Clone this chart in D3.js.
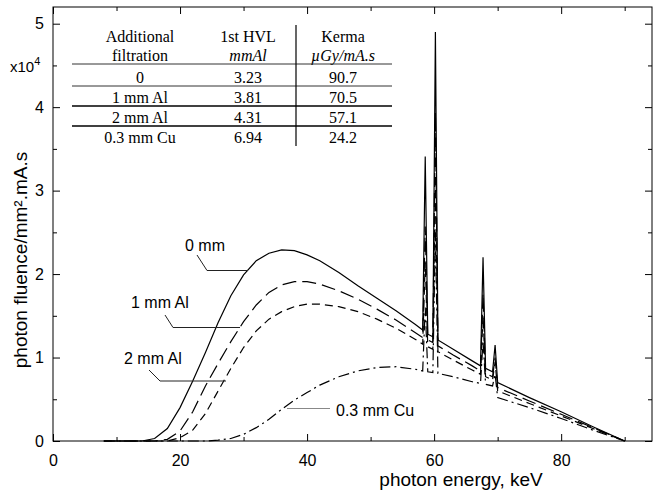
<!DOCTYPE html>
<html>
<head>
<meta charset="utf-8">
<script src="https://cdnjs.cloudflare.com/ajax/libs/d3/7.8.5/d3.min.js"></script>
<style>
body { margin: 0; background: #fff; }
svg { display: block; }
.axis .domain { stroke: none; }
.axis .tick line { stroke: #000; stroke-width: 1; }
.axis .tick text { font-family: "Liberation Sans", Arial, sans-serif; font-size: 16px; fill: #000; }
.lbl { font-family: "Liberation Sans", Arial, sans-serif; fill: #000; }
.tbl { font-family: "Liberation Serif", "Times New Roman", serif; font-size: 16px; fill: #000; }
</style>
</head>
<body>
<svg id="chart" width="653" height="494"></svg>
<script>
// photon energy (keV) shared by all spectra, incl. W K-lines 58.6 / 60.2 / 67.7 / 69.6
var energy = [8, 14, 16, 18, 20, 22, 24, 26, 28, 30, 32, 34, 36, 38, 40, 42, 45, 48, 51, 54, 57,
              58.2, 58.6, 59.0, 59.8, 60.2, 60.6, 63, 66, 67.3, 67.7, 68.1, 69.2, 69.6, 70.0, 75, 80, 85, 90];

// fluence, x10^4 photons/mm2.mA.s
var fl0mm = [0, 0, 0.03, 0.15, 0.40, 0.72, 1.06, 1.42, 1.74, 1.99, 2.16, 2.25, 2.29, 2.28, 2.23, 2.16, 2.02, 1.86, 1.71, 1.56, 1.40,
             1.33, 3.41, 1.28, 1.25, 4.90, 1.21, 1.10, 0.96, 0.90, 2.20, 0.87, 0.83, 1.15, 0.70, 0.52, 0.35, 0.17, 0];
var fl1mmAl = [0, 0, 0, 0.02, 0.12, 0.35, 0.66, 0.93, 1.19, 1.43, 1.63, 1.78, 1.87, 1.91, 1.91, 1.88, 1.80, 1.70, 1.58, 1.45, 1.30,
               1.24, 2.57, 1.21, 1.18, 3.94, 1.14, 1.03, 0.90, 0.84, 1.77, 0.81, 0.77, 1.00, 0.64, 0.48, 0.32, 0.16, 0];
var fl2mmAl = [0, 0, 0, 0, 0.04, 0.13, 0.33, 0.60, 0.87, 1.12, 1.32, 1.46, 1.55, 1.61, 1.64, 1.64, 1.61, 1.55, 1.46, 1.35, 1.22,
               1.16, 2.14, 1.13, 1.10, 3.19, 1.07, 0.97, 0.85, 0.80, 1.50, 0.77, 0.73, 0.95, 0.60, 0.45, 0.30, 0.15, 0];
var fl03mmCu = [0, 0, 0, 0, 0, 0, 0, 0.01, 0.03, 0.08, 0.16, 0.26, 0.38, 0.49, 0.58, 0.67, 0.77, 0.84, 0.88, 0.89, 0.86,
                0.84, 1.60, 0.83, 0.82, 2.50, 0.81, 0.77, 0.71, 0.69, 1.20, 0.68, 0.66, 0.80, 0.52, 0.40, 0.27, 0.13, 0];

var xMajorTicks = [0, 20, 40, 60, 80];
var xMinorTicks = [10, 30, 50, 70, 90];
var yMajorTicks = [0, 1, 2, 3, 4, 5];
var yMinorTicks = [0.5, 1.5, 2.5, 3.5, 4.5];

// table
var tblHead1 = ["Additional", "1st HVL", "Kerma"];
var tblHead2 = ["filtration", "mmAl", "\u00b5Gy/mA.s"];
var tblFilter = ["0", "1 mm Al", "2 mm Al", "0.3 mm Cu"];
var tblHVL = ["3.23", "3.81", "4.31", "6.94"];
var tblKerma = ["90.7", "70.5", "57.1", "24.2"];

var margin = { top: 7, right: 1, bottom: 53, left: 53 };
var width = 653 - margin.left - margin.right;
var height = 494 - margin.top - margin.bottom;

var svg = d3.select("#chart");
var g = svg.append("g")
    .attr("transform", "translate(" + margin.left + "," + margin.top + ")");

var x = d3.scaleLinear().domain([0, 94.3]).range([0, width]);
var y = d3.scaleLinear().domain([0, 5.2]).range([height, 0]);
var fmt = d3.format("d");

// axes, ticks pointing inward on all four sides
g.append("g").attr("class", "axis")
    .attr("transform", "translate(0," + height + ")")
    .call(d3.axisBottom(x).tickValues(xMajorTicks).tickFormat(fmt).tickSizeInner(-7).tickSizeOuter(0).tickPadding(14));
g.append("g").attr("class", "axis")
    .attr("transform", "translate(0," + height + ")")
    .call(d3.axisBottom(x).tickValues(xMinorTicks).tickSize(-4).tickFormat(""));
g.append("g").attr("class", "axis")
    .call(d3.axisTop(x).tickValues(xMajorTicks).tickSize(-7).tickFormat(""));
g.append("g").attr("class", "axis")
    .call(d3.axisTop(x).tickValues(xMinorTicks).tickSize(-4).tickFormat(""));

g.append("g").attr("class", "axis")
    .call(d3.axisLeft(y).tickValues(yMajorTicks).tickFormat(fmt).tickSizeInner(-7).tickSizeOuter(0).tickPadding(9));
g.append("g").attr("class", "axis")
    .call(d3.axisLeft(y).tickValues(yMinorTicks).tickSize(-4).tickFormat(""));
g.append("g").attr("class", "axis")
    .attr("transform", "translate(" + width + ",0)")
    .call(d3.axisRight(y).tickValues(yMajorTicks).tickSize(-7).tickFormat(""));
g.append("g").attr("class", "axis")
    .attr("transform", "translate(" + width + ",0)")
    .call(d3.axisRight(y).tickValues(yMinorTicks).tickSize(-4).tickFormat(""));

g.append("rect")
    .attr("x", 0).attr("y", 0)
    .attr("width", width).attr("height", height)
    .attr("fill", "none").attr("stroke", "#000").attr("stroke-width", 1);

// spectra
var line = d3.line()
    .x(function(d) { return x(d[0]); })
    .y(function(d) { return y(d[1]); });

var series = [
    { vals: fl0mm, dash: null },
    { vals: fl1mmAl, dash: "14,6" },
    { vals: fl2mmAl, dash: "8,5" },
    { vals: fl03mmCu, dash: "11,4,2,4" }
];

series.forEach(function(s) {
    var pts = energy.map(function(e, i) { return [e, s.vals[i]]; });
    g.append("path")
        .datum(pts)
        .attr("d", line)
        .attr("fill", "none")
        .attr("stroke", "#000")
        .attr("stroke-width", 1.2)
        .attr("stroke-dasharray", s.dash);
});

// curve labels with leader lines (svg coords)
function leader(pts, col) {
    svg.append("polyline")
        .attr("points", pts.map(function(p) { return p.join(","); }).join(" "))
        .attr("fill", "none")
        .attr("stroke", col)
        .attr("stroke-width", 1);
}
leader([[197, 255], [207, 270.5], [248, 270.5]], "#222");
leader([[165, 315], [173, 327.5], [240, 327.5]], "#222");
leader([[149, 370], [160, 381], [226, 381]], "#222");
leader([[287, 408.5], [330, 408.5]], "#888");

svg.append("text").attr("class", "lbl").style("font-size", "16px").attr("x", 185).attr("y", 251).text("0 mm");
svg.append("text").attr("class", "lbl").style("font-size", "16px").attr("x", 131).attr("y", 308).text("1 mm Al");
svg.append("text").attr("class", "lbl").style("font-size", "16px").attr("x", 124).attr("y", 364).text("2 mm Al");
svg.append("text").attr("class", "lbl").style("font-size", "16px").attr("x", 336).attr("y", 416).text("0.3 mm Cu");

// axis titles
svg.append("text").attr("class", "lbl")
    .style("font-size", "19px")
    .attr("text-anchor", "middle")
    .attr("x", 461).attr("y", 486)
    .text("photon energy, keV");

svg.append("text").attr("class", "lbl")
    .style("font-size", "19px")
    .attr("text-anchor", "middle")
    .attr("transform", "translate(27,260) rotate(-90)")
    .text("photon fluence/mm\u00b2.mA.s");

var mult = svg.append("text").attr("class", "lbl").style("font-size", "15px")
    .attr("x", 10).attr("y", 72);
mult.append("tspan").text("x10");
mult.append("tspan").attr("dy", -7).style("font-size", "11px").text("4");

// table
var colX = [140, 248, 343];
var tbl = svg.append("g").attr("class", "tbl");
tblHead1.forEach(function(t, i) {
    tbl.append("text").attr("x", colX[i]).attr("y", 42).attr("text-anchor", "middle").text(t);
});
tblHead2.forEach(function(t, i) {
    tbl.append("text").attr("x", colX[i]).attr("y", 61).attr("text-anchor", "middle")
        .style("font-style", i > 0 ? "italic" : null).text(t);
});
var rowY = [83, 103, 123, 143];
tblFilter.forEach(function(t, i) {
    tbl.append("text").attr("x", colX[0]).attr("y", rowY[i]).attr("text-anchor", "middle").text(t);
    tbl.append("text").attr("x", colX[1]).attr("y", rowY[i]).attr("text-anchor", "middle").text(tblHVL[i]);
    tbl.append("text").attr("x", colX[2]).attr("y", rowY[i]).attr("text-anchor", "middle").text(tblKerma[i]);
});
[[64, 1, "#333"], [86, 1, "#333"], [106, 1.5, "#000"], [126, 1.5, "#000"]].forEach(function(l) {
    svg.append("line")
        .attr("x1", 72).attr("x2", 392)
        .attr("y1", l[0]).attr("y2", l[0])
        .attr("stroke", l[2]).attr("stroke-width", l[1]);
});
svg.append("line")
    .attr("x1", 296).attr("x2", 296)
    .attr("y1", 25).attr("y2", 146)
    .attr("stroke", "#000").attr("stroke-width", 1.2);
</script>
</body>
</html>
